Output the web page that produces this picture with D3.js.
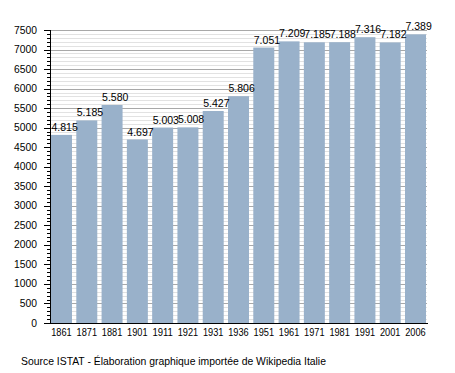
<!DOCTYPE html>
<html>
<head>
<meta charset="utf-8">
<script src="https://cdn.jsdelivr.net/npm/d3@7"></script>
<style>
  body { margin: 0; background: #fff; }
  text { font-family: "Liberation Sans", Arial, sans-serif; fill: #000; }
</style>
</head>
<body>
<svg id="chart" width="455" height="373"></svg>
<script>
const years = ['1861', '1871', '1881', '1901', '1911', '1921', '1931', '1936', '1951', '1961', '1971', '1981', '1991', '2001', '2006'];
const population = [4815, 5185, 5580, 4697, 5003, 5008, 5427, 5806, 7051, 7209, 7185, 7188, 7316, 7182, 7389];
const valueLabels = ['4.815', '5.185', '5.580', '4.697', '5.003', '5.008', '5.427', '5.806', '7.051', '7.209', '7.185', '7.188', '7.316', '7.182', '7.389'];
const sourceText = 'Source ISTAT - Élaboration graphique importée de Wikipedia Italie';

const svg = d3.select('#chart');
const plotLeft = 50, plotRight = 427, plotTop = 30, plotBottom = 323;

const x = d3.scaleBand().domain(years).range([plotLeft, plotRight]).paddingInner(0.17).paddingOuter(0.04);
const y = d3.scaleLinear().domain([0, 7500]).range([plotBottom, plotTop]);
const py = v => Math.round(y(v)) + 0.5;

// minor gridlines every 100, major every 500
const minor = d3.range(0, 7501, 100).filter(v => v % 500 !== 0);
const major = d3.range(0, 7501, 500);

svg.append('g').selectAll('line').data(minor).join('line')
  .attr('x1', plotLeft).attr('x2', plotRight)
  .attr('y1', py).attr('y2', py)
  .attr('stroke', '#e2e2e2').attr('stroke-width', 1);

svg.append('g').selectAll('line').data(major.filter(v => v > 0)).join('line')
  .attr('x1', plotLeft).attr('x2', plotRight)
  .attr('y1', py).attr('y2', py)
  .attr('stroke', '#a8a8a8').attr('stroke-width', 1);

// bars
svg.append('g').selectAll('rect').data(population).join('rect')
  .attr('x', (d, i) => x(years[i]))
  .attr('y', d => y(d))
  .attr('width', x.bandwidth())
  .attr('height', d => plotBottom - y(d))
  .attr('fill', '#99b1ca');

// value labels
svg.append('g').selectAll('text').data(population).join('text')
  .attr('x', (d, i) => x(years[i]) + 0.5)
  .attr('y', d => y(d) - 4)
  .style('font-size', '10.5px')
  .text((d, i) => valueLabels[i]);

// y axis: ticks and labels
const yAxis = svg.append('g');
yAxis.selectAll('line.tick').data(d3.range(0, 7501, 100)).join('line')
  .attr('class', 'tick')
  .attr('x1', d => d % 500 === 0 ? plotLeft - 6 : plotLeft - 3).attr('x2', plotLeft)
  .attr('y1', py).attr('y2', py)
  .attr('stroke', '#000').attr('stroke-width', 1);
yAxis.append('line')
  .attr('x1', plotLeft + 0.5).attr('x2', plotLeft + 0.5)
  .attr('y1', y(7500)).attr('y2', plotBottom + 1)
  .attr('stroke', '#000').attr('stroke-width', 1);
yAxis.selectAll('text').data(major).join('text')
  .attr('x', 37)
  .attr('y', d => y(d) + 3.5)
  .attr('text-anchor', 'end')
  .style('font-size', '10.3px')
  .text(d => d);

// x axis
svg.append('line')
  .attr('x1', plotLeft).attr('x2', plotRight + 1)
  .attr('y1', plotBottom + 0.5).attr('y2', plotBottom + 0.5)
  .attr('stroke', '#000').attr('stroke-width', 1);
svg.append('g').selectAll('text').data(years).join('text')
  .attr('x', d => x(d) + x.bandwidth() / 2)
  .attr('y', plotBottom + 13)
  .attr('text-anchor', 'middle')
  .attr('textLength', 20.5)
  .attr('lengthAdjust', 'spacingAndGlyphs')
  .style('font-size', '11px')
  .text(d => d);

svg.append('text')
  .attr('x', 21).attr('y', 365)
  .style('font-size', '10.4px')
  .text(sourceText);
</script>
</body>
</html>
